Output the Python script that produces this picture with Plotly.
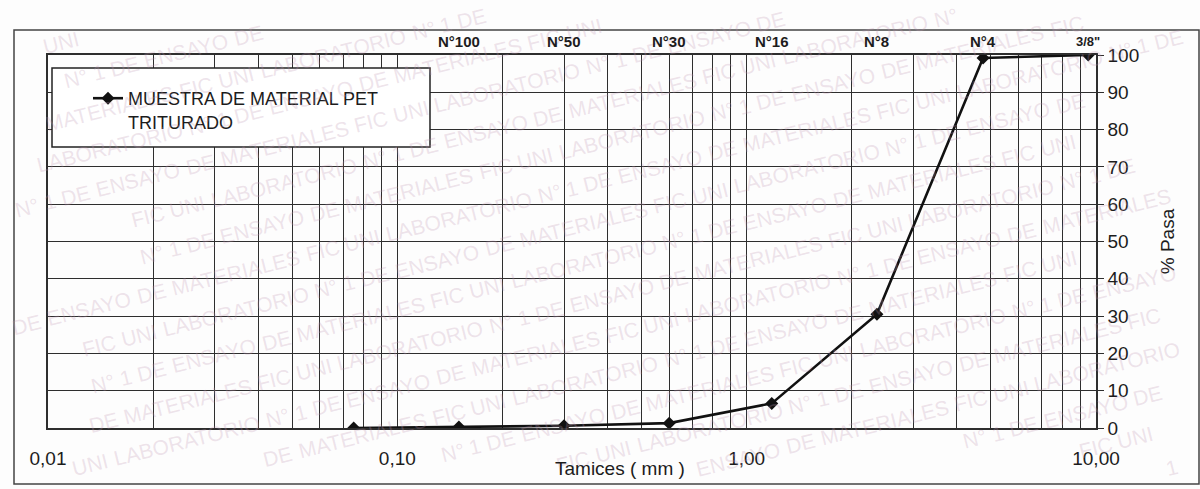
import math
import numpy as np
import plotly.graph_objects as go

# Granulometric data: sieve opening (mm) and cumulative percent passing
sizes_mm = [0.075, 0.15, 0.30, 0.60, 1.18, 2.36, 4.75, 9.5]
pasa = [0.0, 0.3, 0.6, 1.3, 6.6, 30.5, 99.2, 100.0]

# Sieve designations printed above the chart
sieve_names = ["N°100", "N°50", "N°30", "N°16", "N°8", "N°4", '3/8"']
sieve_sizes = [0.15, 0.30, 0.60, 1.18, 2.36, 4.75, 9.5]

# Axis ticks
x_tickvals = [0.01, 0.1, 1, 10]
x_ticktext = ["0,01", "0,10", "1,00", "10,00"]
y_tickvals = list(range(0, 101, 10))

series_name = "MUESTRA DE MATERIAL PET<br>TRITURADO"
stamp_words = ["LABORATORIO", "N°", "1", "DE", "ENSAYO", "DE", "MATERIALES", "FIC", "UNI"]

W, H = 1200, 489
ML, MR, MT, MB = 48, 104, 55, 61
PW, PH = W - ML - MR, H - MT - MB
FONT = "Liberation Sans, Arial, sans-serif"
INK = "#1c1c1c"
GRID = "#2e2e2e"


def px(xp):
    return (xp - ML) / PW


def py(yp):
    return (H - MB - yp) / PH


# Approximate Arial advance widths (em/1000) for laying out the stamp text
ADV = {"A": 667, "B": 667, "C": 722, "D": 722, "E": 667, "F": 611, "I": 278,
       "L": 556, "M": 833, "N": 722, "O": 778, "R": 722, "S": 667, "T": 611,
       "U": 722, "Y": 667, "°": 400, "1": 556, " ": 278}


def text_width(s, size):
    return sum(ADV.get(c, 600) for c in s) * size / 1000.0


minor_vals = [m * 10.0 ** d for d in (-2, -1, 0) for m in range(2, 10)]

fig = go.Figure()
fig.add_trace(go.Scatter(
    x=sizes_mm, y=pasa, mode="lines+markers", name=series_name,
    line=dict(color="#111111", width=2.6),
    marker=dict(symbol="diamond", size=10, color="#111111"),
))

annotations = []

# Faint diagonal stamp text tiled across the sheet, word by word
STAMP_SIZE = 21
ang = math.radians(14)
ux, uy = math.cos(ang), -math.sin(ang)
for r in range(-1, 22):
    # each row is a parallel line 39 px below the previous one
    sx, sy = -40.0, -10.0 + r * 39.0
    pos = -((r * 230) % 640)
    k = 0
    while pos < 1500:
        w = stamp_words[k % len(stamp_words)]
        ww = text_width(w, STAMP_SIZE)
        cx = sx + ux * (pos + ww / 2)
        cy = sy + uy * (pos + ww / 2)
        hw = ww / 2 * math.cos(ang) + 10
        hh = ww / 2 * math.sin(ang) + 12
        if cx - hw > 2 and cx + hw < W - 2 and cy - hh > 2 and cy + hh < H - 2:
            annotations.append(dict(
                text=w, xref="paper", yref="paper", x=px(cx), y=py(cy),
                showarrow=False, textangle=-14, xanchor="center", yanchor="middle",
                font=dict(family=FONT, size=STAMP_SIZE, color="rgba(190,150,178,0.26)"),
            ))
        pos += ww + text_width(" ", STAMP_SIZE)
        k += 1

for name, s in zip(sieve_names, sieve_sizes):
    annotations.append(dict(
        text=f"<b>{name}</b>", x=np.log10(s), xref="x", y=1, yref="paper",
        yshift=14, showarrow=False, yanchor="middle",
        font=dict(family=FONT, size=13 if '"' in name else 15, color=INK),
    ))

annotations.append(dict(
    text="Tamices ( mm )", xref="paper", yref="paper",
    x=px(620), y=py(468), showarrow=False, yanchor="middle",
    font=dict(family=FONT, size=19, color=INK),
))

shapes = [
    # outer sheet frame
    dict(type="rect", xref="paper", yref="paper",
         x0=px(14), x1=px(1199), y0=py(484), y1=py(30),
         line=dict(color="#444444", width=1.5), layer="below"),
    # legend box
    dict(type="rect", xref="paper", yref="paper",
         x0=px(52), x1=px(430), y0=py(147), y1=py(68),
         fillcolor="white", line=dict(color="#222222", width=1.5), layer="above"),
]

fig.update_layout(
    width=W, height=H,
    margin=dict(l=ML, r=MR, t=MT, b=MB),
    paper_bgcolor="#fdfdfd", plot_bgcolor="#fdfdfd",
    font=dict(family=FONT, color=INK),
    showlegend=True,
    legend=dict(
        x=px(88), y=py(80), xanchor="left", yanchor="top",
        bgcolor="rgba(0,0,0,0)", borderwidth=0, valign="top",
        font=dict(family=FONT, size=18, color=INK),
    ),
    annotations=annotations,
    shapes=shapes,
    xaxis=dict(
        type="log", range=[-2, 1],
        tickvals=x_tickvals, ticktext=x_ticktext,
        tickfont=dict(family=FONT, size=19, color=INK),
        ticks="", ticklabelstandoff=12,
        showgrid=True, gridcolor=GRID, gridwidth=1.3,
        minor=dict(tickvals=minor_vals, showgrid=True, gridcolor=GRID, gridwidth=1.3, ticks=""),
        showline=True, linecolor=GRID, linewidth=1.5, mirror=True,
        zeroline=False,
    ),
    yaxis=dict(
        side="right", range=[0, 100],
        tickvals=y_tickvals,
        tickfont=dict(family=FONT, size=19, color=INK),
        ticks="outside", ticklen=6, tickcolor=GRID, tickwidth=1.3,
        showgrid=True, gridcolor=GRID, gridwidth=1.3,
        showline=True, linecolor=GRID, linewidth=1.5, mirror=True,
        zeroline=False,
        title=dict(text="% Pasa", font=dict(family=FONT, size=19, color=INK), standoff=22),
    ),
)

fig.write_html("out.html")
